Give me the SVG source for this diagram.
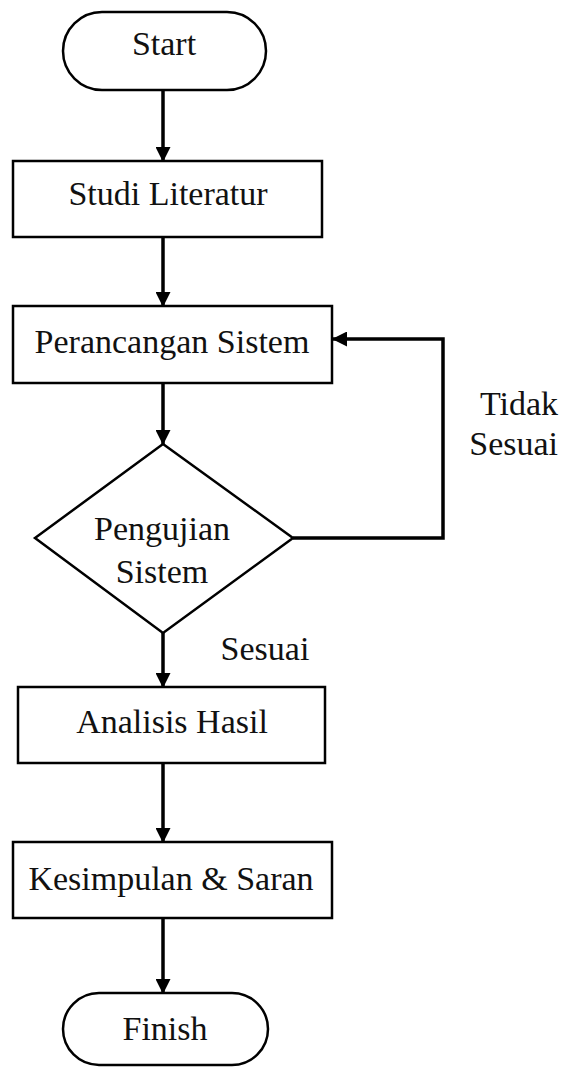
<svg xmlns="http://www.w3.org/2000/svg" width="565" height="1068" viewBox="0 0 565 1068">
  <style>
    .shape { fill: #ffffff; stroke: #000000; stroke-width: 2.5; }
    .label { font-family: "Liberation Serif", "Times New Roman", serif; font-size: 34px; fill: #111111; text-anchor: middle; }
    .edge { fill: none; stroke: #000000; stroke-width: 3.5; stroke-linejoin: miter; }
  </style>
  <defs>
    <marker id="arrow" markerUnits="userSpaceOnUse" markerWidth="15" markerHeight="15" refX="14" refY="7.5" orient="auto">
      <path d="M0,0 L15,7.5 L0,15 z" fill="#000000"/>
    </marker>
  </defs>
  <rect width="565" height="1068" fill="#ffffff"/>

  <g id="connectors">
    <line class="edge" x1="163" y1="90" x2="163" y2="161" marker-end="url(#arrow)"/>
    <line class="edge" x1="163" y1="237" x2="163" y2="306" marker-end="url(#arrow)"/>
    <line class="edge" x1="163" y1="383" x2="163" y2="444" marker-end="url(#arrow)"/>
    <line class="edge" x1="163" y1="633" x2="163" y2="687" marker-end="url(#arrow)"/>
    <line class="edge" x1="163" y1="763" x2="163" y2="842" marker-end="url(#arrow)"/>
    <line class="edge" x1="163" y1="918" x2="163" y2="993" marker-end="url(#arrow)"/>
    <polyline class="edge" points="293,538 443,538 443,339 333,339" marker-end="url(#arrow)"/>
    <text class="label" x="265" y="660">Sesuai</text>
    <text class="label" x="558" y="415" style="text-anchor:end">Tidak</text>
    <text class="label" x="558" y="455" style="text-anchor:end">Sesuai</text>
  </g>

  <g id="start">
    <rect class="shape" x="63" y="12" width="203" height="78" rx="39" ry="39"/>
    <text class="label" x="164" y="55">Start</text>
  </g>

  <g id="studi-literatur">
    <rect class="shape" x="13" y="161" width="309" height="76"/>
    <text class="label" x="168" y="205">Studi Literatur</text>
  </g>

  <g id="perancangan-sistem">
    <rect class="shape" x="13" y="306" width="319" height="77"/>
    <text class="label" x="172" y="353">Perancangan Sistem</text>
  </g>

  <g id="pengujian-sistem">
    <polygon class="shape" points="163,444 293,538 163,633 35,538"/>
    <text class="label" x="162" y="540">Pengujian</text>
    <text class="label" x="162" y="583">Sistem</text>
  </g>

  <g id="analisis-hasil">
    <rect class="shape" x="18" y="687" width="307" height="76"/>
    <text class="label" x="172" y="733">Analisis Hasil</text>
  </g>

  <g id="kesimpulan-saran">
    <rect class="shape" x="13" y="842" width="319" height="76"/>
    <text class="label" x="171" y="890">Kesimpulan &amp; Saran</text>
  </g>

  <g id="finish">
    <rect class="shape" x="63" y="993" width="205" height="72" rx="36" ry="36"/>
    <text class="label" x="165" y="1040">Finish</text>
  </g>
</svg>
